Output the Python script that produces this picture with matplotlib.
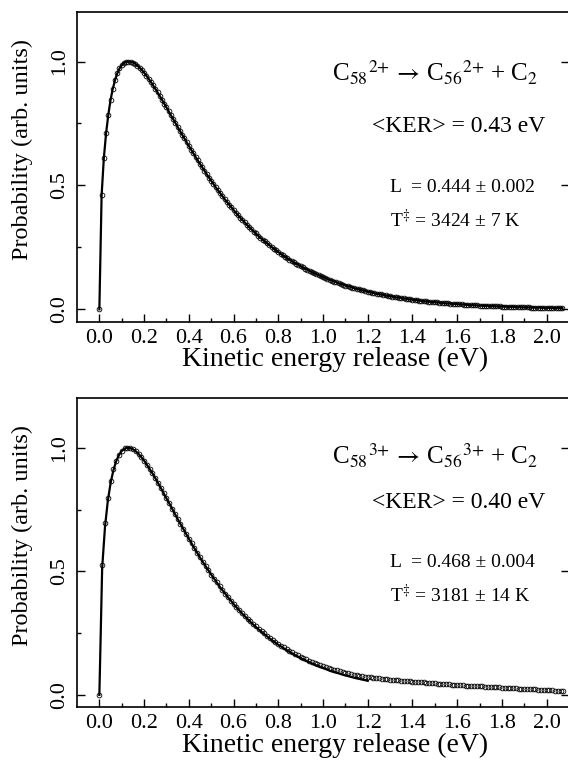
import matplotlib
matplotlib.use("Agg")
import matplotlib.pyplot as plt
import numpy as np

plt.rcParams['font.family'] = ['Liberation Serif', 'DejaVu Serif']
plt.rcParams['mathtext.fontset'] = 'stix'

# ---------------- data ----------------
# upper panel: markers every 0.01 eV from 0.00 to 2.07 eV
step_top = 0.01
y_top = [
    0.000, 0.46, 0.61, 0.71, 0.785, 0.845, 0.89, 0.925, 0.952, 0.972,
    0.985, 0.994, 0.998, 1.000, 0.999, 0.996, 0.991, 0.984, 0.975, 0.966,
    0.955, 0.943, 0.931, 0.918, 0.904, 0.890, 0.876, 0.861, 0.846, 0.830,
    0.815, 0.799, 0.783, 0.768, 0.752, 0.736, 0.721, 0.705, 0.690, 0.675,
    0.660, 0.645, 0.630, 0.615, 0.601, 0.587, 0.573, 0.559, 0.545, 0.532,
    0.519, 0.506, 0.493, 0.481, 0.469, 0.457, 0.445, 0.434, 0.423, 0.412,
    0.401, 0.390, 0.380, 0.370, 0.360, 0.351, 0.341, 0.332, 0.323, 0.314,
    0.306, 0.297, 0.289, 0.281, 0.274, 0.266, 0.259, 0.252, 0.245, 0.238,
    0.231, 0.225, 0.218, 0.212, 0.206, 0.200, 0.195, 0.189, 0.184, 0.179,
    0.174, 0.169, 0.164, 0.159, 0.155, 0.150, 0.146, 0.142, 0.138, 0.134,
    0.130, 0.126, 0.122, 0.119, 0.115, 0.112, 0.109, 0.105, 0.102, 0.099,
    0.096, 0.094, 0.091, 0.088, 0.085, 0.083, 0.081, 0.078, 0.076, 0.074,
    0.071, 0.069, 0.067, 0.065, 0.063, 0.061, 0.060, 0.058, 0.056, 0.054,
    0.053, 0.051, 0.050, 0.048, 0.047, 0.045, 0.044, 0.043, 0.041, 0.040,
    0.039, 0.038, 0.037, 0.035, 0.034, 0.033, 0.032, 0.031, 0.030, 0.029,
    0.029, 0.028, 0.027, 0.026, 0.025, 0.024, 0.024, 0.023, 0.022, 0.022,
    0.021, 0.020, 0.020, 0.019, 0.018, 0.018, 0.017, 0.017, 0.016, 0.016,
    0.015, 0.015, 0.014, 0.014, 0.014, 0.013, 0.013, 0.012, 0.012, 0.012,
    0.011, 0.011, 0.011, 0.010, 0.010, 0.010, 0.009, 0.009, 0.009, 0.008,
    0.008, 0.008, 0.008, 0.007, 0.007, 0.007, 0.007, 0.007, 0.006, 0.006,
    0.006, 0.006, 0.006, 0.005, 0.005, 0.005, 0.005, 0.005,
]

# lower panel: markers every 0.0125 eV from 0 to 2.075 eV
step_bot = 0.0125
y_bot = [
    0.000, 0.525, 0.695, 0.795, 0.865, 0.912, 0.947, 0.971, 0.988, 0.997,
    1.000, 0.999, 0.994, 0.986, 0.975, 0.962, 0.948, 0.931, 0.914, 0.896,
    0.877, 0.857, 0.837, 0.816, 0.795, 0.775, 0.754, 0.733, 0.712, 0.692,
    0.672, 0.652, 0.632, 0.613, 0.593, 0.575, 0.556, 0.538, 0.521, 0.504,
    0.487, 0.471, 0.455, 0.439, 0.424, 0.410, 0.395, 0.382, 0.369, 0.356,
    0.344, 0.332, 0.320, 0.309, 0.298, 0.287, 0.277, 0.267, 0.258, 0.249,
    0.240, 0.231, 0.223, 0.215, 0.207, 0.200, 0.193, 0.186, 0.179, 0.173,
    0.167, 0.161, 0.155, 0.149, 0.144, 0.139, 0.134, 0.129, 0.125, 0.121,
    0.117, 0.113, 0.109, 0.106, 0.102, 0.099, 0.096, 0.093, 0.090, 0.087,
    0.085, 0.082, 0.080, 0.078, 0.076, 0.074, 0.072, 0.071, 0.070, 0.068,
    0.067, 0.066, 0.065, 0.063, 0.062, 0.061, 0.060, 0.059, 0.058, 0.057,
    0.056, 0.055, 0.054, 0.053, 0.052, 0.051, 0.0505, 0.050, 0.049, 0.048,
    0.047, 0.046, 0.045, 0.044, 0.0435, 0.043, 0.042, 0.041, 0.040, 0.0395,
    0.039, 0.038, 0.0375, 0.037, 0.036, 0.0355, 0.035, 0.0345, 0.034, 0.033,
    0.0325, 0.032, 0.031, 0.0305, 0.030, 0.0295, 0.029, 0.028, 0.0275, 0.027,
    0.026, 0.0255, 0.025, 0.0245, 0.024, 0.023, 0.0225, 0.022, 0.021, 0.0205,
    0.020, 0.019, 0.018, 0.017, 0.016, 0.015, 0.014,
]
# lower panel fit line (0 to 1.2 eV, same 0.0125 eV grid)
yfit_bot = [
    0.000, 0.513, 0.678, 0.783, 0.856, 0.908, 0.945, 0.970, 0.987, 0.996,
    1.000, 0.999, 0.994, 0.986, 0.975, 0.962, 0.948, 0.931, 0.914, 0.896,
    0.877, 0.857, 0.837, 0.816, 0.795, 0.775, 0.754, 0.733, 0.712, 0.692,
    0.672, 0.652, 0.632, 0.613, 0.593, 0.575, 0.556, 0.538, 0.521, 0.504,
    0.487, 0.471, 0.455, 0.439, 0.424, 0.410, 0.395, 0.382, 0.368, 0.355,
    0.343, 0.330, 0.319, 0.307, 0.296, 0.285, 0.275, 0.265, 0.255, 0.246,
    0.237, 0.228, 0.219, 0.211, 0.203, 0.196, 0.188, 0.181, 0.174, 0.168,
    0.161, 0.155, 0.149, 0.143, 0.138, 0.133, 0.127, 0.122, 0.118, 0.113,
    0.109, 0.105, 0.100, 0.096, 0.093, 0.089, 0.086, 0.082, 0.079, 0.076,
    0.073, 0.070, 0.067, 0.065, 0.062, 0.060, 0.057,
]

xticks = [0.0, 0.2, 0.4, 0.6, 0.8, 1.0, 1.2, 1.4, 1.6, 1.8, 2.0]
yticks = [0.0, 0.5, 1.0]

x_top = np.arange(len(y_top)) * step_top
x_bot = np.arange(len(y_bot)) * step_bot
xfit_bot = np.arange(len(yfit_bot)) * step_bot

W, H = 568, 768
fig = plt.figure(figsize=(W/100, H/100), dpi=100)

def axes_px(left, top, right, bottom):
    return fig.add_axes([left/W, 1-bottom/H, (right-left)/W, (bottom-top)/H])

ax1 = axes_px(77, 12, 569, 321.7)
ax2 = axes_px(77, 398.3, 569, 707.3)

def style(ax, height_px, label_y_px):
    ax.set_xlim(-0.1, 2.1)
    ax.set_ylim(-0.05, 1.2)
    ax.set_xticks(xticks)
    ax.set_xticklabels([f"{t:.1f}" for t in xticks])
    ax.set_xticks(np.arange(0.1, 2.1, 0.2), minor=True)
    ax.set_yticks(yticks)
    ax.set_yticklabels([f"{t:.1f}" for t in yticks], rotation=90, va='center')
    ax.set_yticks([0.25, 0.75], minor=True)
    ax.tick_params(axis='both', which='major', direction='in', length=6, width=1.0,
                   labelsize=16, top=False, right=True)
    ax.tick_params(axis='both', which='minor', direction='in', length=3, width=1.0,
                   top=False, right=False)
    ax.tick_params(axis='x', pad=5)
    ax.tick_params(axis='y', pad=6)
    for s in ax.spines.values():
        s.set_linewidth(1.2)
    ax.set_xlabel("Kinetic energy release (eV)", fontsize=20, va='center')
    ax.set_ylabel("Probability (arb. units)", fontsize=17.5, va='center')
    ax.xaxis.set_label_coords((335-77)/492, -label_y_px/height_px)
    ax.yaxis.set_label_coords((22-77)/492, 0.555)

style(ax1, 309.7, 38)
style(ax2, 309.0, 38)

ax1.plot(x_top, y_top, color='black', lw=1.6, zorder=2)
ax1.plot(x_top, y_top, ls='none', marker='o', ms=3.4, mfc='none', mec='black', mew=0.6, zorder=3)

ax2.plot(xfit_bot, yfit_bot, color='black', lw=1.6, zorder=2)
ax2.plot(x_bot, y_bot, ls='none', marker='o', ms=3.4, mfc='none', mec='black', mew=0.6, zorder=3)

def ftext(x, y, s, size):
    fig.text(x/W, 1-y/H, s, fontsize=size, ha='left', va='baseline')

panels = [('2', '0.43', '0.444 \u00b1 0.002', '3424 \u00b1 7 K', 0.0),
          ('3', '0.40', '0.468 \u00b1 0.004', '3181 \u00b1 14 K', 383.3)]
for q, ker, L, T, off in panels:
    formula = ("C$_{58}{}^{" + q + "{+}}$" + r"$\,\rightarrow\,$" +
               "C$_{56}{}^{" + q + "{+}}$ + C$_{2}$")
    ftext(332, 81.7 + off, formula, 18)
    ftext(372, 131.7 + off - (0 if off == 0 else 6.7), "<KER> = " + ker + " eV", 17)
    ftext(390, 191.7 + off - (0 if off == 0 else 8.3), "L  = " + L, 14)
    ftext(390, 226.7 + off - (0 if off == 0 else 8.3), r"T$^{\ddagger}$ = " + T, 14)

fig.savefig("out.png", dpi=100)
